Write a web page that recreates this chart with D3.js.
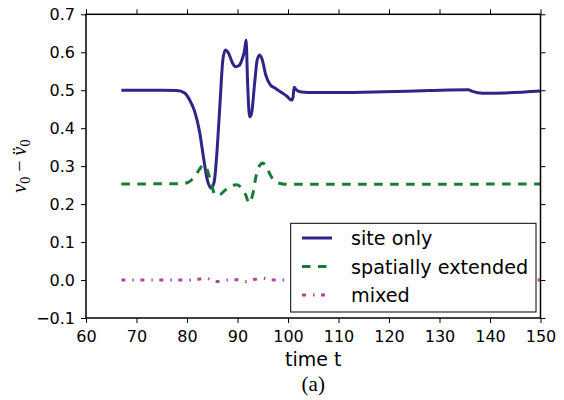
<!DOCTYPE html>
<html>
<head>
<meta charset="utf-8">
<script src="https://cdn.jsdelivr.net/npm/d3@7"></script>
<style>
  body { margin: 0; background: #fff; }
  svg { display: block; }
</style>
</head>
<body>
<div id="chart"></div>
<script>
// values
var siteT = [67, 75, 78, 79.5, 80.5, 81.5, 82.5, 83.3, 84, 84.8, 85.4, 86, 86.6, 87.1, 87.6, 88.2, 89, 89.6, 90.3, 91, 91.4, 91.7,
             92.0, 92.4, 92.8, 93.4, 93.9, 94.4, 94.9, 95.6, 96.5, 97.5, 98.5, 99.8, 100.7, 101.0, 101.2, 101.7, 102.4, 104, 110, 119, 128,
             135.7, 136.5, 138.5, 143, 150];
var siteV = [0.500, 0.500, 0.499, 0.493, 0.475, 0.445, 0.39, 0.32, 0.265, 0.242, 0.26, 0.35, 0.48, 0.58, 0.606, 0.598, 0.572, 0.562, 0.565, 0.585, 0.605, 0.632,
             0.52, 0.430, 0.44, 0.52, 0.58, 0.593, 0.58, 0.54, 0.514, 0.505, 0.496, 0.484, 0.474, 0.482, 0.508, 0.500, 0.496, 0.494, 0.494, 0.496, 0.499,
             0.501, 0.497, 0.492, 0.493, 0.498];

var extT = [67, 79, 80.3, 81.5, 82.5, 83.2, 84, 84.8, 85.6, 86.5, 87.5, 88.5, 89.9, 90.8, 91.6, 92.3, 93, 93.7, 94.4, 95, 95.8, 96.7, 97.5, 99, 100, 150];
var extV = [0.253, 0.254, 0.258, 0.272, 0.292, 0.303, 0.29, 0.255, 0.224, 0.225, 0.236, 0.247, 0.251, 0.242, 0.225, 0.203, 0.225, 0.275, 0.302, 0.308, 0.295, 0.272, 0.259, 0.253, 0.252, 0.253];

var mixT = [67, 80, 82.6, 83.5, 84.5, 86, 87, 88, 90, 91.7, 93.5, 95, 96.5, 98, 150];
var mixV = [0, 0, 0.003, 0.006, 0.002, -0.004, -0.002, 0, 0.001, -0.004, 0.002, 0.005, 0.001, 0, 0];

var xTicks = [60, 70, 80, 90, 100, 110, 120, 130, 140, 150];
var yTicks = [-0.1, 0.0, 0.1, 0.2, 0.3, 0.4, 0.5, 0.6, 0.7];
var legendNames = ["site only", "spatially extended", "mixed"];

var W = 564, H = 400;
var margin = { top: 14.3, left: 86, right: 23.5, bottom: 82 };
var width = W - margin.left - margin.right,
    height = H - margin.top - margin.bottom;

var svg = d3.select("#chart").append("svg")
    .attr("width", W)
    .attr("height", H);

var g = svg.append("g")
    .attr("transform", "translate(" + margin.left + "," + margin.top + ")");

var x = d3.scaleLinear().domain([60, 150]).range([0, width]);
var y = d3.scaleLinear().domain([-0.1, 0.7]).range([height, 0]);

var series = [
    { t: siteT, v: siteV, color: "#2e2686", dash: null },
    { t: extT, v: extV, color: "#1b7a37", dash: "8.5,7.5" },
    { t: mixT, v: mixV, color: "#b0479c", dash: "4,7,1.5,6.5" }
];

var line = d3.line()
    .x(function(d) { return x(d[0]); })
    .y(function(d) { return y(d[1]); })
    .curve(d3.curveMonotoneX);

series.forEach(function(s) {
    var pts = s.t.map(function(t, i) { return [t, s.v[i]]; });
    g.append("path")
        .attr("d", line(pts))
        .attr("fill", "none")
        .attr("stroke", s.color)
        .attr("stroke-width", 3)
        .attr("stroke-dasharray", s.dash);
});

// legend
var lg = svg.append("g");
lg.append("rect")
    .attr("x", 290.7).attr("y", 223.3)
    .attr("width", 245.3).attr("height", 88.7)
    .attr("fill", "#fff")
    .attr("stroke", "#000")
    .attr("stroke-width", 1);

legendNames.forEach(function(name, i) {
    var cy = 238 + i * 28.5;
    lg.append("line")
        .attr("x1", 302).attr("x2", 332)
        .attr("y1", cy).attr("y2", cy)
        .attr("stroke", series[i].color)
        .attr("stroke-width", 3)
        .attr("stroke-dasharray", series[i].dash);
    lg.append("text")
        .attr("x", 351)
        .attr("y", cy + 7)
        .style("font-family", "DejaVu Sans")
        .style("font-size", "19.2px")
        .text(name);
});

// axes: ticks point outward on all four sides
var fontTick = "16px";
function styleAxis(sel) {
    sel.select(".domain").remove();
    sel.selectAll(".tick line").attr("stroke", "#000").attr("stroke-width", 1);
    sel.selectAll(".tick text")
        .style("font-family", "DejaVu Sans")
        .style("font-size", fontTick)
        .attr("fill", "#000");
}

var fmt = function(d) { return d3.format(".1f")(d).replace("-", "\u2212"); };

g.append("g")
    .attr("transform", "translate(0," + height + ")")
    .call(d3.axisBottom(x).tickValues(xTicks).tickSize(5).tickPadding(8))
    .call(styleAxis);

g.append("g")
    .call(d3.axisTop(x).tickValues(xTicks).tickSize(5).tickFormat(""))
    .call(styleAxis);

g.append("g")
    .call(d3.axisLeft(y).tickValues(yTicks).tickSize(5).tickPadding(6).tickFormat(fmt))
    .call(styleAxis);

g.append("g")
    .attr("transform", "translate(" + width + ",0)")
    .call(d3.axisRight(y).tickValues(yTicks).tickSize(5).tickFormat(""))
    .call(styleAxis);

g.append("rect")
    .attr("width", width).attr("height", height)
    .attr("fill", "none")
    .attr("stroke", "#000")
    .attr("stroke-width", 1.5);

// axis labels
svg.append("text")
    .attr("x", margin.left + width / 2)
    .attr("y", 366)
    .attr("text-anchor", "middle")
    .style("font-family", "DejaVu Sans")
    .style("font-size", "19px")
    .text("time t");

svg.append("text")
    .attr("x", margin.left + width / 2)
    .attr("y", 391)
    .attr("text-anchor", "middle")
    .style("font-family", "Liberation Serif")
    .style("font-size", "21px")
    .text("(a)");

var yl = svg.append("text")
    .attr("transform", "translate(26," + (margin.top + y(0.3)) + ") rotate(-90)")
    .attr("text-anchor", "middle")
    .style("font-family", "Liberation Serif")
    .style("font-size", "20px");
yl.append("tspan").style("font-style", "italic").text("v");
yl.append("tspan").attr("dy", 4).style("font-size", "14px").text("0");
yl.append("tspan").attr("dy", -4).text(" \u2212 ");
yl.append("tspan").style("font-style", "italic").text("v\u0308");
yl.append("tspan").attr("dy", 4).style("font-size", "14px").text("0");
</script>
</body>
</html>
